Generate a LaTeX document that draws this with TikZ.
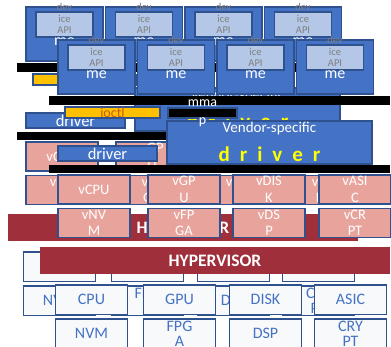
\documentclass[tikz,border=0pt]{standalone}
\usepackage{fontspec}
\setmainfont{Carlito}
\definecolor{bluefill}{HTML}{4472C4}
\definecolor{bdr}{HTML}{2F528F}
\definecolor{lightblue}{HTML}{B4C7E7}
\definecolor{txtgray}{HTML}{7F7F7F}
\definecolor{ioyellow}{HTML}{FFC000}
\definecolor{iotext}{HTML}{C55A11}
\definecolor{dyellow}{HTML}{FFFF00}
\definecolor{pinkfill}{HTML}{E8A39C}
\definecolor{hyper}{HTML}{9F2F3A}
\definecolor{hwfill}{HTML}{F8F9FA}
\definecolor{hwtext}{HTML}{4472C4}
\tikzset{
  every node/.style={inner sep=0pt, outer sep=0pt},
  bx/.style={anchor=north west, line width=1.6pt, draw=bdr},
  apiout/.style={bx, fill=bluefill, minimum width=77pt, minimum height=54pt},
  apiin/.style={bx, fill=lightblue, minimum width=57pt, minimum height=25pt},
  apitxt/.style={text=txtgray, align=center, font=\fontsize{10.5}{11.5}\selectfont},
  devtxt/.style={text=txtgray, font=\fontsize{10.5}{11.5}\selectfont},
  metxt/.style={text=white, font=\fontsize{16}{17}\selectfont},
  blackbar/.style={anchor=north west, fill=black, minimum width=341pt, minimum height=8.5pt},
  ioctlbox/.style={bx, fill=ioyellow, minimum width=95pt, minimum height=11pt},
  iotxt/.style={text=iotext, font=\fontsize{14}{15}\selectfont},
  mmapbox/.style={bx, fill=black, minimum width=69pt, minimum height=10pt},
  mmaptxt/.style={text=white, align=center, font=\fontsize{14}{18.5}\selectfont},
  drvbox/.style={bx, fill=bluefill, minimum width=99pt, minimum height=15pt},
  drvtxt/.style={text=white, font=\fontsize{16.5}{17}\selectfont},
  vendbox/.style={bx, fill=bluefill, minimum width=205pt, minimum height=43pt},
  vendtxt/.style={text=white, font=\fontsize{15}{16}\selectfont},
  drvyellow/.style={text=dyellow, font=\bfseries\fontsize{21}{22}\selectfont},
  vbox/.style={bx, fill=pinkfill, minimum width=72pt, minimum height=29pt},
  vtxt/.style={text=white, align=center, font=\fontsize{14.5}{16.5}\selectfont},
  hyperbar/.style={anchor=north west, fill=hyper, minimum width=350pt, minimum height=27pt},
  hypertxt/.style={text=white, font=\bfseries\fontsize{17.5}{18}\selectfont},
  hwbox/.style={bx, fill=hwfill, minimum width=72pt, minimum height=29.5pt},
  hwtxt/.style={text=hwtext, align=center, font=\fontsize{16}{15.5}\selectfont},
}
\newcommand{\DrawLayerX}[1]{%
  \foreach \i/\x in {1/26,2/105.5,3/185,4/264.5}{%
    \node[apiout] (#1api\i) at (\x,7) {};
    \node[apiin] (#1in\i) at (\x+10,12) {};
    \node[apitxt] (#1it\i) at (#1in\i.center) {ice\\API};
    \node[devtxt] (#1dev\i) at (#1api\i.north) {dev};
    \node[metxt] (#1me\i) at ([yshift=-35pt]#1api\i.north) {me};
  }
  \node[blackbar] (#1bar1) at (17,63.5) {};
  \node[ioctlbox] (#1io) at (33,74) {};
  \node[iotxt] (#1iot) at (#1io.center) {ioctl};
  \node[drvbox] (#1drv) at (26,113) {};
  \node[drvtxt] (#1drvt) at (#1drv.center) {driver};
  \node[vendbox] (#1vend) at (135,88) {};
  \node[vendtxt] (#1vendt) at ([yshift=-8pt]#1vend.north) {Vendor-specific};
  \node[drvyellow] (#1vendd) at ([yshift=-33pt]#1vend.north) {d\hspace{10pt}r\hspace{10pt}i\hspace{10pt}v\hspace{10pt}e\hspace{10pt}r};
  \node[mmapbox] (#1mm) at (136,75) {};
  \node[mmaptxt] (#1mmt) at (#1mm.center) {mma\\p};
  \node[blackbar] (#1bar2) at (17,132) {};
  \foreach \n/\x/\t in {a/26/{vCPU},b/116/{vGP\\U},c/201/{vDIS\\K},d/287/{vASI\\C}}{%
    \node[vbox] (#1v\n) at (\x,142) {};
    \node[vtxt] (#1vt\n) at (#1v\n.center) {\t};
  }
  \foreach \n/\x/\t in {e/26/{vNV\\M},f/116/{vFP\\GA},g/201/{vDS\\P},h/287/{vCR\\PT}}{%
    \node[vbox] (#1v\n) at (\x,175.5) {};
    \node[vtxt] (#1vt\n) at (#1v\n.center) {\t};
  }
  \node[hyperbar] (#1hyp) at (8,214) {};
  \node[hypertxt] (#1hypt) at (#1hyp.center) {HYPERVISOR};
  \foreach \n/\x/\t in {a/23.5/{CPU},b/111.5/{GPU},c/197.5/{DISK},d/282.5/{ASIC}}{%
    \node[hwbox] (#1hw\n) at (\x,252) {};
    \node[hwtxt] (#1hwt\n) at (#1hw\n.center) {\t};
  }
  \foreach \n/\x/\t in {e/23.5/{NVM},f/111.5/{FPG\\A},g/197.5/{DSP},h/282.5/{CRY\\PT}}{%
    \node[hwbox] (#1hw\n) at (\x,286) {};
    \node[hwtxt] (#1hwt\n) at (#1hw\n.center) {\t};
  }
}
\begin{document}
\begin{tikzpicture}[x=1pt,y=-1pt]
  \useasboundingbox (0,0) rectangle (391,347);
  \fill[white] (0,0) rectangle (391,347);
  \clip (0,0) rectangle (391,347);
  \begin{scope}
    \DrawLayerX{B}
  \end{scope}
  \begin{scope}[shift={(32,33)}]
    \DrawLayerX{F}
  \end{scope}
\end{tikzpicture}
\end{document}
